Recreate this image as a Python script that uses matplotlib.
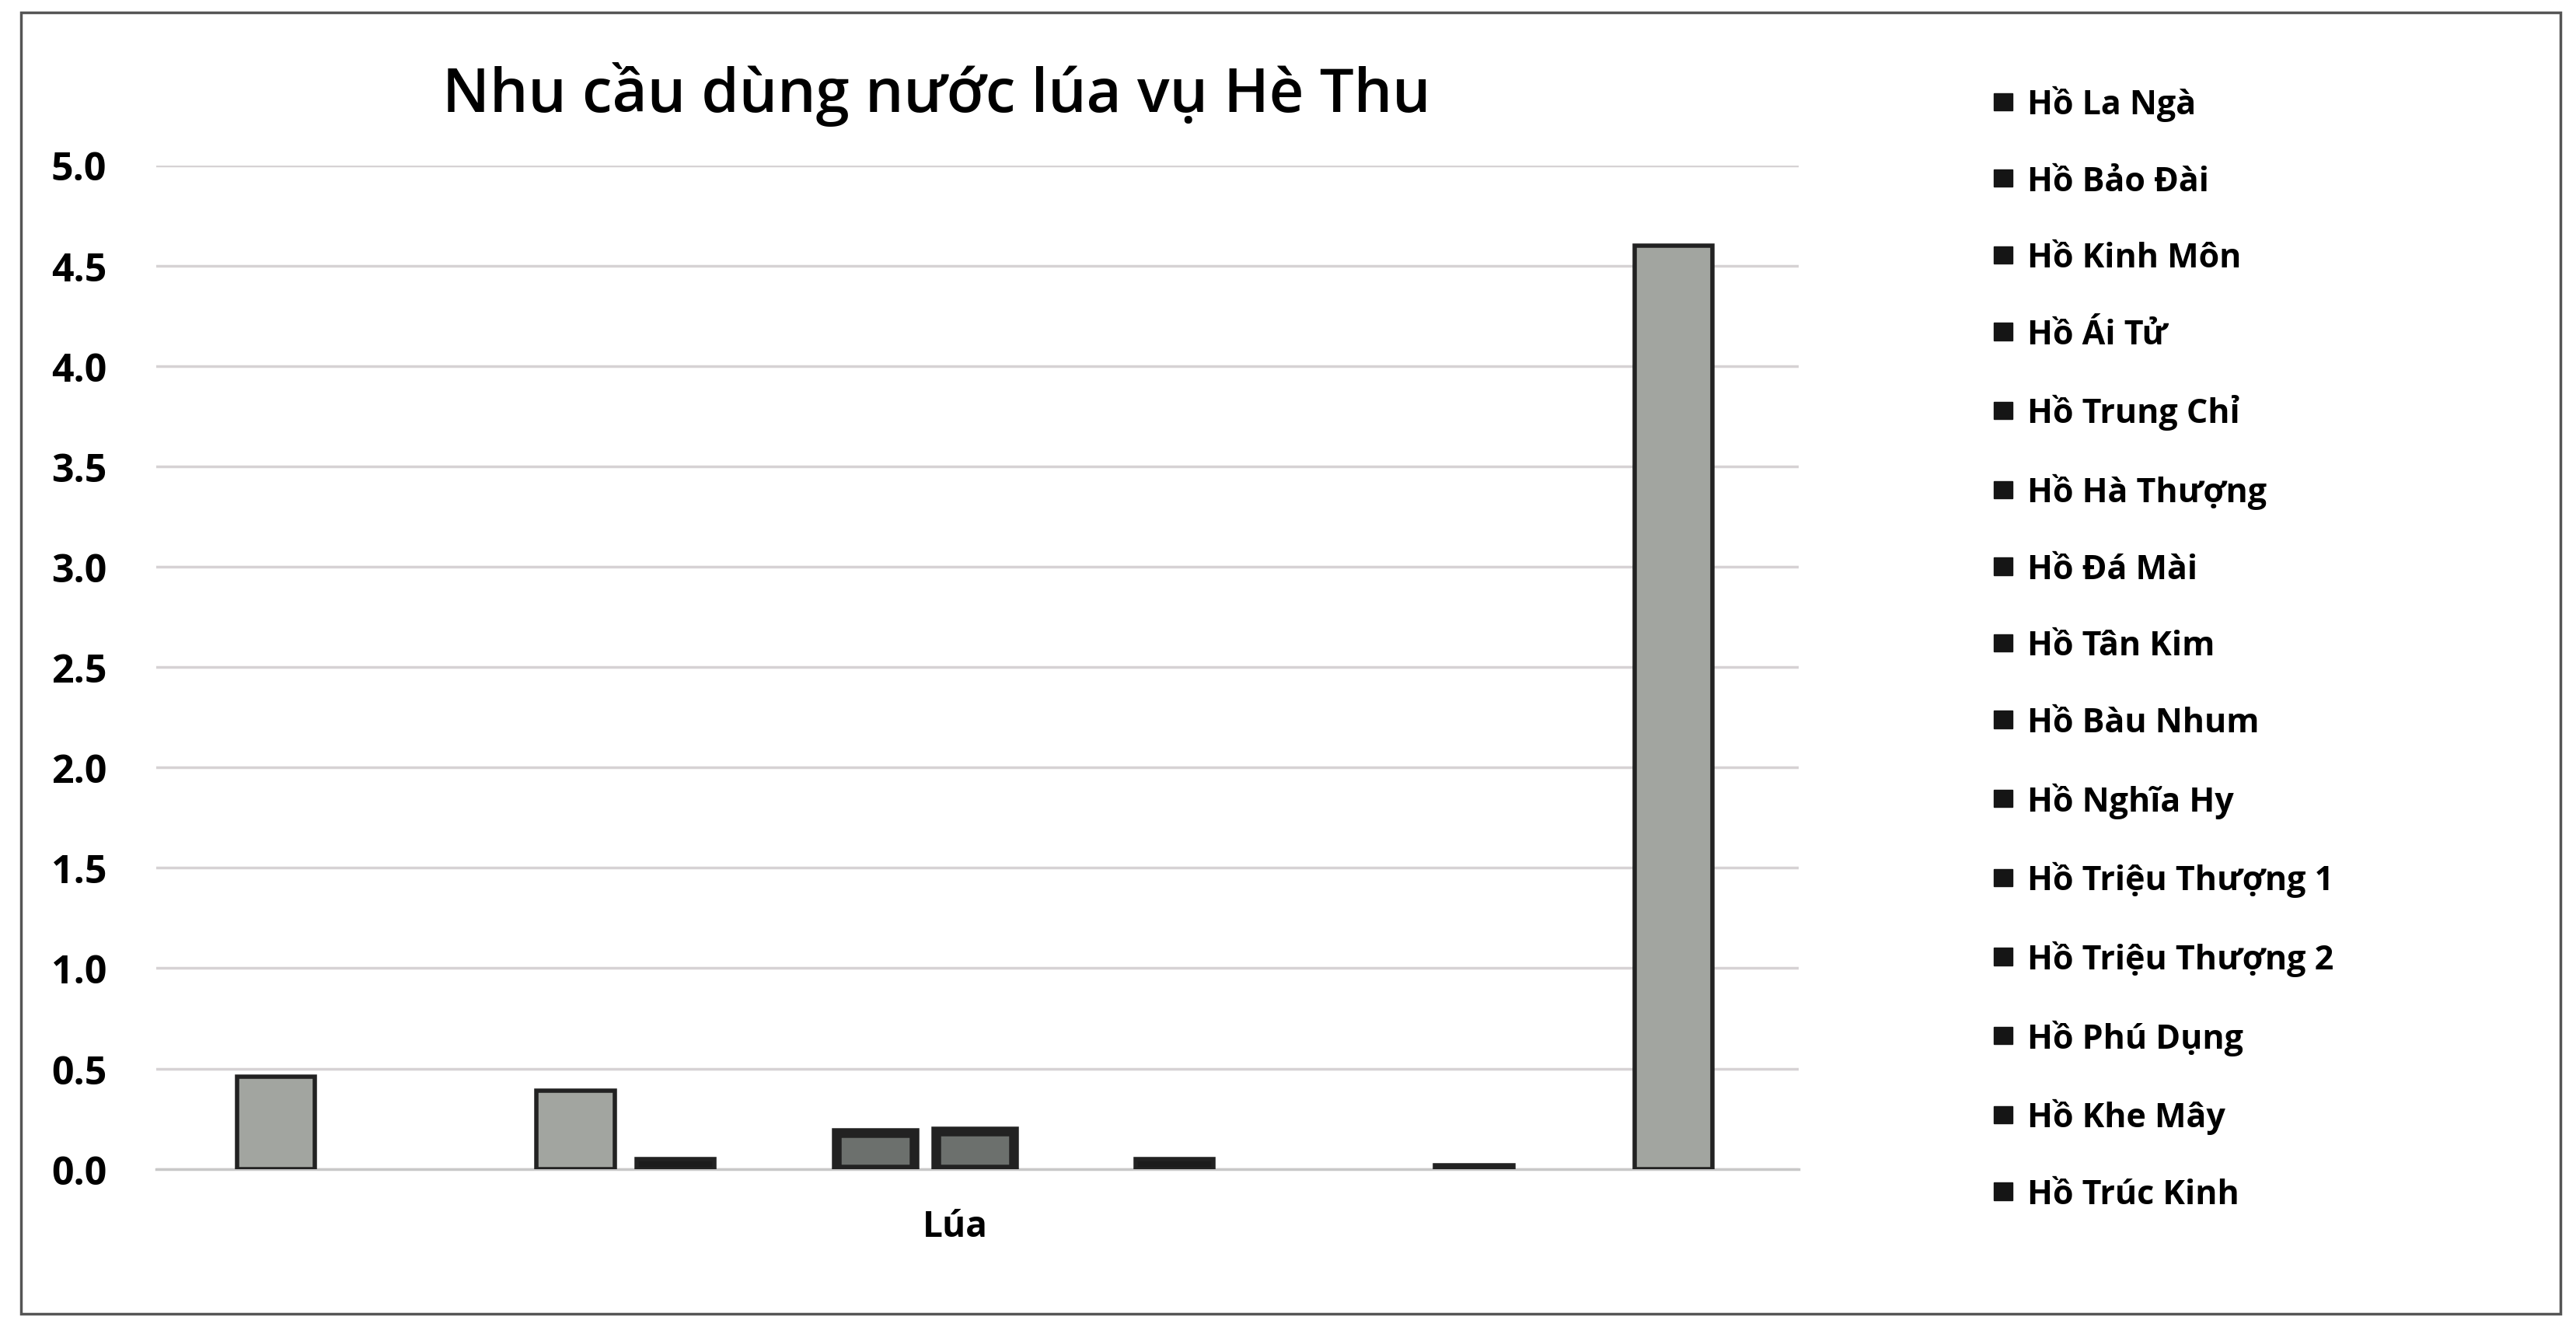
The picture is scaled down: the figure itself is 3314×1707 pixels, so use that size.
import matplotlib
matplotlib.use("Agg")
import matplotlib.pyplot as plt
from matplotlib.patches import Patch, Rectangle

plt.rcParams['font.family'] = ['Open Sans', 'DejaVu Sans']

# series (reservoirs) and their water demand for summer-autumn rice
reservoirs = ["Hồ La Ngà", "Hồ Bảo Đài", "Hồ Kinh Môn", "Hồ Ái Tử", "Hồ Trung Chỉ",
              "Hồ Hà Thượng", "Hồ Đá Mài", "Hồ Tân Kim", "Hồ Bàu Nhum", "Hồ Nghĩa Hy",
              "Hồ Triệu Thượng 1", "Hồ Triệu Thượng 2", "Hồ Phú Dụng", "Hồ Khe Mây",
              "Hồ Trúc Kinh"]
demand = [0.46, 0, 0, 0.39, 0.05, 0, 0.18, 0.19, 0, 0.05, 0, 0, 0.02, 0, 4.6]
category = "Lúa"
yticks = [0.0, 0.5, 1.0, 1.5, 2.0, 2.5, 3.0, 3.5, 4.0, 4.5, 5.0]

# the photo is greyscale: light bars with dark rims, dark bars
grey, dark, mid = "#a2a5a0", "#1c1c1c", "#6c706d"
faces = [grey, dark, dark, grey, dark, dark, mid, mid,
         dark, dark, dark, dark, dark, dark, grey]

fig = plt.figure(figsize=(33.14, 17.08), dpi=100)
ax = fig.add_axes([0.0607, 0.119, 0.6375, 0.756])

for i, (name, v) in enumerate(zip(reservoirs, demand)):
    lw = 9 if faces[i] == mid else 4
    if v == 0:
        lw = 0
    ax.bar(i, v, width=0.78, color=faces[i], edgecolor="#222222", linewidth=lw,
           label=name, zorder=3)

ax.set_xlim(-1.2, 15.25)
ax.set_ylim(0, 5.0)
ax.set_yticks(yticks)
ax.set_yticklabels([f"{t:.1f}" for t in yticks], fontsize=36, fontweight="bold")
ax.set_xticks([6.8])
ax.set_xticklabels([category], fontsize=33, fontweight="bold")
ax.tick_params(length=0)
ax.tick_params(axis="x", pad=36)
ax.tick_params(axis="y", pad=46)
ax.yaxis.grid(True, color="#d6d2d4", linewidth=2.5, zorder=0)
for s in ["top", "right", "left"]:
    ax.spines[s].set_visible(False)
ax.spines["bottom"].set_color("#c8c8c8")
ax.spines["bottom"].set_linewidth(2.5)

fig.text(0.3635, 0.929, "Nhu cầu dùng nước lúa vụ Hè Thu", fontsize=56,
         fontweight="semibold", ha="center", va="center")

handles = [Patch(facecolor="#151515", edgecolor="#151515") for _ in reservoirs]
fig.legend(handles, reservoirs, loc="upper left", bbox_to_anchor=(0.774, 0.935),
           frameon=False, prop={"size": 31, "weight": "bold"},
           handlelength=0.55, handleheight=0.42, handletextpad=0.45,
           labelspacing=1.29, borderpad=0, borderaxespad=0)

fig.patches.append(Rectangle((0.008, 0.01), 0.986, 0.98, transform=fig.transFigure,
                             fill=False, edgecolor="#555555", linewidth=2.5))

fig.savefig("out.png", dpi=100)
